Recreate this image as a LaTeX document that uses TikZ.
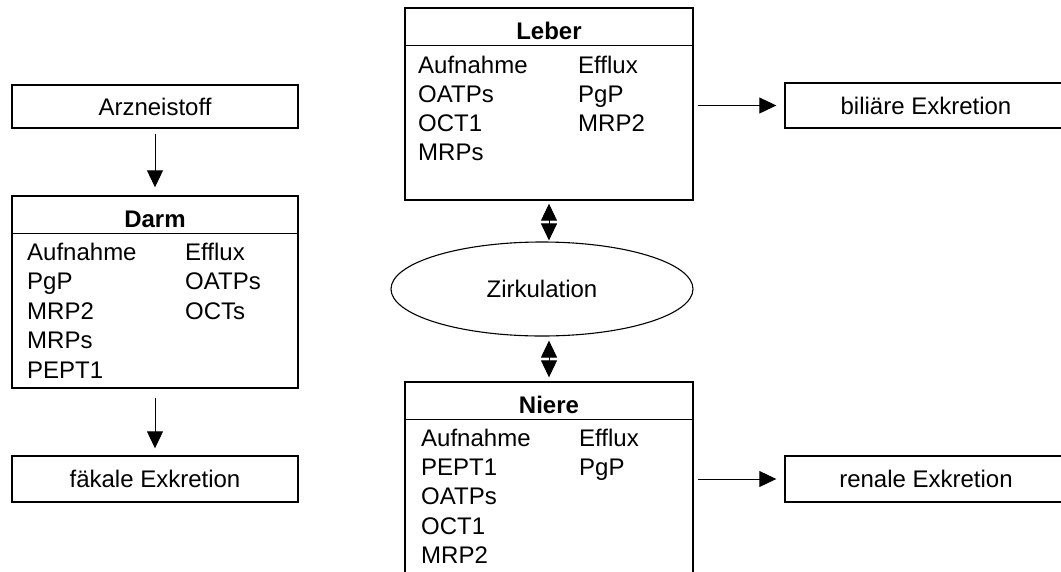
\documentclass[tikz,border=0pt]{standalone}
\usepackage{fontspec}
\setmainfont{Liberation Sans}
\usetikzlibrary{arrows.meta,shapes.geometric}
\begin{document}
\begin{tikzpicture}[x=1pt,y=-1pt,
  box/.style={draw, line width=1.4pt, inner sep=0pt, font=\fontsize{24}{29}\selectfont},
  divider/.style={line width=1.4pt},
  txt/.style={inner sep=0pt, anchor=base west, font=\fontsize{24}{29}\selectfont},
  ttl/.style={inner sep=0pt, anchor=base, font=\fontsize{24}{29}\selectfont\bfseries},
  oval/.style={draw, ellipse, line width=1.1pt, inner sep=0pt, font=\fontsize{24}{29}\selectfont},
  arr/.style={line width=1pt, -{Triangle[width=16pt,length=17pt]}},
  darr/.style={line width=1pt, {Triangle[width=16pt,length=17pt]}-{Triangle[width=16pt,length=17pt]}}]
\useasboundingbox (0,0) rectangle (1061,571);
\clip (0,0) rectangle (1061,571);

% left column
\node[box, minimum width=286pt, minimum height=43pt] (arz) at (155,106.5) {Arzneistoff};
\node[box, minimum width=286pt, minimum height=192pt] (darm) at (155,292) {};
\draw[divider] ([yshift=-38pt]darm.north west) -- ([yshift=-38pt]darm.north east);
\node[ttl] (darmT) at (155,227) {Darm};
\foreach \t [count=\i from 0] in {Aufnahme,PgP,MRP2,MRPs,PEPT1}
  \node[txt] (darmL\i) at (27,260.5+29.4*\i) {\t};
\foreach \t [count=\i from 0] in {Efflux,OATPs,OCTs}
  \node[txt] (darmR\i) at (185,260.5+29.4*\i) {\t};
\node[box, minimum width=286pt, minimum height=46pt] (fak) at (155,479) {fäkale Exkretion};

% Leber
\node[box, minimum width=288pt, minimum height=192pt] (leber) at (549,104) {};
\draw[divider] ([yshift=-38pt]leber.north west) -- ([yshift=-38pt]leber.north east);
\node[ttl] (leberT) at (549,39) {Leber};
\foreach \t [count=\i from 0] in {Aufnahme,OATPs,OCT1,MRPs}
  \node[txt] (leberL\i) at (418,73.3+29.2*\i) {\t};
\foreach \t [count=\i from 0] in {Efflux,PgP,MRP2}
  \node[txt] (leberR\i) at (578,73.3+29.2*\i) {\t};
\node[box, minimum width=282pt, minimum height=45pt] (bil) at (926,105.5) {biliäre Exkretion};

% Zirkulation
\node[oval, minimum width=302pt, minimum height=94pt] (zirk) at (542,289) {Zirkulation};

% Niere
\node[box, minimum width=288pt, minimum height=258pt] (niere) at (549,511) {};
\draw[divider] ([yshift=-38pt]niere.north west) -- ([yshift=-38pt]niere.north east);
\node[ttl] (niereT) at (549,413) {Niere};
\foreach \t [count=\i from 0] in {Aufnahme,PEPT1,OATPs,OCT1,MRP2}
  \node[txt] (niereL\i) at (421,446.5+29.2*\i) {\t};
\foreach \t [count=\i from 0] in {Efflux,PgP}
  \node[txt] (niereR\i) at (579,446.5+29.2*\i) {\t};
\node[box, minimum width=282pt, minimum height=46pt] (ren) at (926,479) {renale Exkretion};

% connectors
\draw[arr, shorten <=5pt, shorten >=8pt] (arz) -- (darm);
\draw[arr, shorten <=9pt, shorten >=7pt] (darm) -- (fak);
\draw[arr, shorten <=4pt, shorten >=8pt] (leber.east |- bil.west) -- (bil.west);
\draw[arr, shorten <=4pt, shorten >=8pt] (niere.east |- ren.west) -- (ren.west);
\draw[darr, shorten <=3pt, shorten >=1pt] (leber.south) -- (leber.south |- zirk.north);
\draw[darr, shorten <=4pt, shorten >=4pt] (leber.south |- zirk.south) -- (niere.north);
\end{tikzpicture}
\end{document}
